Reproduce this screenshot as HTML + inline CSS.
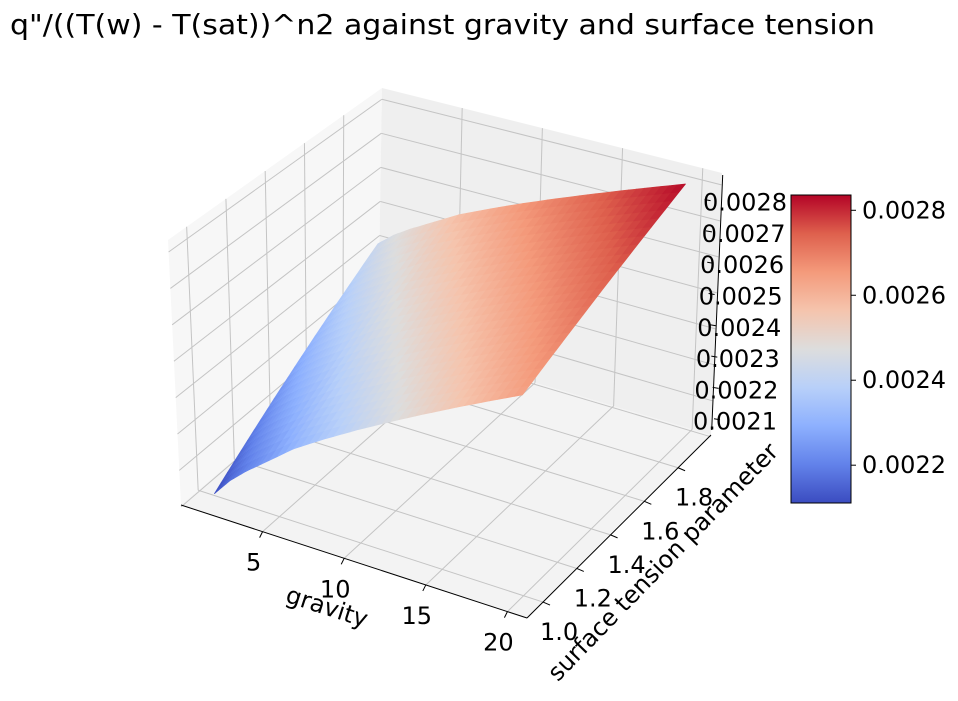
<!DOCTYPE html>
<html><head><meta charset="utf-8"><style>
html,body{margin:0;padding:0;background:#fff;}
svg text{font-family:"DejaVu Sans","Liberation Sans",sans-serif;fill:#000;}
</style></head>
<body>
<svg id="chart" width="958" height="696" viewBox="0 0 958 696" xmlns="http://www.w3.org/2000/svg">
<text x="10" y="34" font-size="28" textLength="865" lengthAdjust="spacingAndGlyphs">q"/((T(w) - T(sat))^n2 against gravity and surface tension</text>
<g id="panes"></g><g id="grid"></g><g id="axes"></g><g id="surface"></g><g id="labels"></g><g id="cbar"></g>
</svg>
<script>
const gravity = [1, 2, 3, 4, 6, 8, 10, 12, 14, 16, 18, 20];
const surfaceTension = [1.0, 1.15, 1.3, 1.45, 1.6, 1.75, 1.9];
const qValues = [
 [0.0021100,0.0021604,0.0022001,0.0022346,0.0023046,0.0023605,0.0024126,0.0024617,0.0025087,0.0025539,0.0025976,0.0026400],
 [0.0021633,0.0022117,0.0022498,0.0022829,0.0023500,0.0024036,0.0024536,0.0025007,0.0025457,0.0025891,0.0026310,0.0026717],
 [0.0022167,0.0022630,0.0022994,0.0023311,0.0023954,0.0024467,0.0024945,0.0025396,0.0025828,0.0026243,0.0026644,0.0027033],
 [0.0022700,0.0023143,0.0023491,0.0023794,0.0024408,0.0024898,0.0025355,0.0025786,0.0026198,0.0026595,0.0026978,0.0027350],
 [0.0023233,0.0023655,0.0023987,0.0024276,0.0024861,0.0025328,0.0025765,0.0026175,0.0026568,0.0026946,0.0027312,0.0027667],
 [0.0023767,0.0024168,0.0024484,0.0024759,0.0025315,0.0025759,0.0026174,0.0026565,0.0026939,0.0027298,0.0027646,0.0027983],
 [0.0024300,0.0024681,0.0024980,0.0025241,0.0025769,0.0026190,0.0026584,0.0026954,0.0027309,0.0027650,0.0027980,0.0028300]
];
const gravityTicks = [5, 10, 15, 20];
const stTicks = [1.0, 1.2, 1.4, 1.6, 1.8];
const stTickLabels = ["1.0", "1.2", "1.4", "1.6", "1.8"];
const zTicks = [0.0021, 0.0022, 0.0023, 0.0024, 0.0025, 0.0026, 0.0027, 0.0028];
const cbarTicks = [0.0022, 0.0024, 0.0026, 0.0028];

const NS = "http://www.w3.org/2000/svg";
const G_MIN = 0, G_MAX = 21.2, S_MIN = 0.905, S_MAX = 1.995, Z_MIN = 0.002105, Z_MAX = 0.002833;
const F00=[181,505],F10=[527,618],F11=[711,435],F01=[378,336];
const T00=[168,240],T10=[525,343],T11=[722,173],T01=[382,88];
function bil(a,b,c,d,u,v){
  return [(1-u)*(1-v)*a[0]+u*(1-v)*b[0]+u*v*c[0]+(1-u)*v*d[0],
          (1-u)*(1-v)*a[1]+u*(1-v)*b[1]+u*v*c[1]+(1-u)*v*d[1]];
}
function projUVW(u,v,w){
  const f=bil(F00,F10,F11,F01,u,v), t=bil(T00,T10,T11,T01,u,v);
  return [f[0]+w*(t[0]-f[0]), f[1]+w*(t[1]-f[1])];
}
function xU(g){return (g-G_MIN)/(G_MAX-G_MIN);}
function yV(s){return (s-S_MIN)/(S_MAX-S_MIN);}
function zW(z){return (z-Z_MIN)/(Z_MAX-Z_MIN);}
function proj(g,s,z){return projUVW(xU(g),yV(s),zW(z));}
const CB_X=791, CB_W=60, CB_TOP=195, CB_BOT=503, V_MIN=0.002111, V_MAX=0.002836;
function cbY(v){return CB_BOT-(v-V_MIN)/(V_MAX-V_MIN)*(CB_BOT-CB_TOP);}
function zLabelY(v){return 421.7-(v-0.0021)/0.0001*31.3;}
const cw=[[59,76,192],[98,130,234],[141,176,254],[184,208,249],[221,221,221],[245,196,173],[244,154,123],[222,96,77],[180,4,38]];
function coolwarm(t){
  t=Math.max(0,Math.min(1,t));const p=t*8,i=Math.min(7,Math.floor(p)),f=p-i;
  const a=cw[i],b=cw[i+1];
  return "rgb("+[0,1,2].map(k=>Math.round(a[k]+(b[k]-a[k])*f)).join(",")+")";
}
function el(tag,attrs,parent){const e=document.createElementNS(NS,tag);for(const k in attrs)e.setAttribute(k,attrs[k]);parent.appendChild(e);return e;}
function pts(arr){return arr.map(p=>p[0].toFixed(1)+","+p[1].toFixed(1)).join(" ");}

const panes=document.getElementById("panes");
let pe;
pe=el("polygon",{points:pts([projUVW(0,0,0),projUVW(0,1,0),projUVW(0,1,1),projUVW(0,0,1)]),fill:"#f7f7f7"},panes);


pe=el("polygon",{points:pts([projUVW(0,1,0),projUVW(1,1,0),projUVW(1,1,1),projUVW(0,1,1)]),fill:"#efefef"},panes);


pe=el("polygon",{points:pts([projUVW(0,0,0),projUVW(1,0,0),projUVW(1,1,0),projUVW(0,1,0)]),fill:"#f3f3f3"},panes);



const grid=document.getElementById("grid");
function gl(a,b,name){const l=el("line",{x1:a[0],y1:a[1],x2:b[0],y2:b[1],stroke:"#c4c4c4","stroke-width":1},grid);
  
  }
gravityTicks.forEach(g=>{const u=xU(g);
  gl(projUVW(u,0,0),projUVW(u,1,0),'gravity-gridline');
  gl(projUVW(u,1,0),projUVW(u,1,1),'gravity-gridline');});
stTicks.forEach(s=>{const v=yV(s);
  gl(projUVW(0,v,0),projUVW(1,v,0),'tension-gridline');
  gl(projUVW(0,v,0),projUVW(0,v,1),'tension-gridline');});
zTicks.forEach(z=>{const w=zW(z);
  gl(projUVW(0,0,w),projUVW(0,1,w),'z-gridline');
  gl(projUVW(0,1,w),projUVW(1,1,w),'z-gridline');});

const axes=document.getElementById("axes");
function ax(a,b,name){const l=el("line",{x1:a[0],y1:a[1],x2:b[0],y2:b[1],stroke:"#000","stroke-width":1},axes);
  
  }
ax(projUVW(0,0,0),projUVW(1,0,0),'gravity-axis-line');
ax(projUVW(1,0,0),projUVW(1,1,0),'tension-axis-line');
ax([711.7,430],[722.7,175],'z-axis-line');
gravityTicks.forEach(g=>{const p=projUVW(xU(g),0,0);ax(p,[p[0]-3,p[1]+6],'gravity-tick');});
stTicks.forEach(s=>{const p=projUVW(1,yV(s),0);ax(p,[p[0]+7,p[1]+3],'tension-tick');});
zTicks.forEach(z=>{const y=zLabelY(z),x=712-(421.7-y)*0.0431;ax([x+8,y-2],[x+2,y-3],'z-tick');});

const surf=document.getElementById("surface");
const NSUB=4;
function cellVal(j,i,a,b){
  return (1-a)*(1-b)*qValues[j][i]+a*(1-b)*qValues[j][i+1]+a*b*qValues[j+1][i+1]+(1-a)*b*qValues[j+1][i];
}
for(let j=surfaceTension.length-2;j>=0;j--)for(let i=0;i<gravity.length-1;i++){
  const g0=gravity[i],g1=gravity[i+1],s0=surfaceTension[j],s1=surfaceTension[j+1];
  for(let b=NSUB-1;b>=0;b--)for(let a=0;a<NSUB;a++){
    const a0=a/NSUB,a1=(a+1)/NSUB,b0=b/NSUB,b1=(b+1)/NSUB;
    const P=[proj(g0+(g1-g0)*a0,s0+(s1-s0)*b0,cellVal(j,i,a0,b0)),
             proj(g0+(g1-g0)*a1,s0+(s1-s0)*b0,cellVal(j,i,a1,b0)),
             proj(g0+(g1-g0)*a1,s0+(s1-s0)*b1,cellVal(j,i,a1,b1)),
             proj(g0+(g1-g0)*a0,s0+(s1-s0)*b1,cellVal(j,i,a0,b1))];
    const zc=cellVal(j,i,(a0+a1)/2,(b0+b1)/2);
    const c=coolwarm((zc-V_MIN)/(V_MAX-V_MIN));
    const p=el("polygon",{points:pts(P),fill:c,stroke:c,"stroke-width":0.7,"stroke-linejoin":"round"},surf);
    
    
  }
}

const lab=document.getElementById("labels");
function tx(x,y,s,name,extra){const t=el("text",Object.assign({x:x,y:y,"font-size":24,"text-anchor":"middle","dominant-baseline":"central"},extra||{}),lab);t.textContent=s;
  
  return t;}
gravityTicks.forEach(g=>{const p=projUVW(xU(g),0,0);tx(p[0]-9,p[1]+31,String(g),'gravity-tick-label');});
stTicks.forEach((s,k)=>{const p=projUVW(1,yV(s),0);tx(p[0]+16,p[1]+30,stTickLabels[k],'tension-tick-label');});
zTicks.forEach(z=>{const y=zLabelY(z);
  tx(703-((0.0028-z)/0.0001)*1.43,y,z.toFixed(4),'z-tick-label',{"text-anchor":"start"});});
tx(327,607,"gravity",'gravity-axis-title',{transform:"rotate(18 327 607)"});
tx(663,562,"surface tension parameter",'tension-axis-title',{transform:"rotate(-46 663 562)"});

const cb=document.getElementById("cbar");
const defs=el("defs",{},cb);
const lg=el("linearGradient",{id:"cwgrad",x1:0,y1:1,x2:0,y2:0},defs);
for(let k=0;k<=8;k++){el("stop",{offset:(k/8),"stop-color":coolwarm(k/8)},lg);}
const rect=el("rect",{x:CB_X,y:CB_TOP,width:CB_W,height:CB_BOT-CB_TOP,fill:"url(#cwgrad)",stroke:"#000","stroke-width":1},cb);


cbarTicks.forEach(v=>{const y=cbY(v);
  const l=el("line",{x1:CB_X+CB_W,y1:y,x2:CB_X+CB_W+5,y2:y,stroke:"#000","stroke-width":1},cb);
  
  
  const t=el("text",{x:CB_X+CB_W+11,y:y,"font-size":24,"dominant-baseline":"central"},cb);t.textContent=v.toFixed(4);
  
  
});
</script>
</body></html>
